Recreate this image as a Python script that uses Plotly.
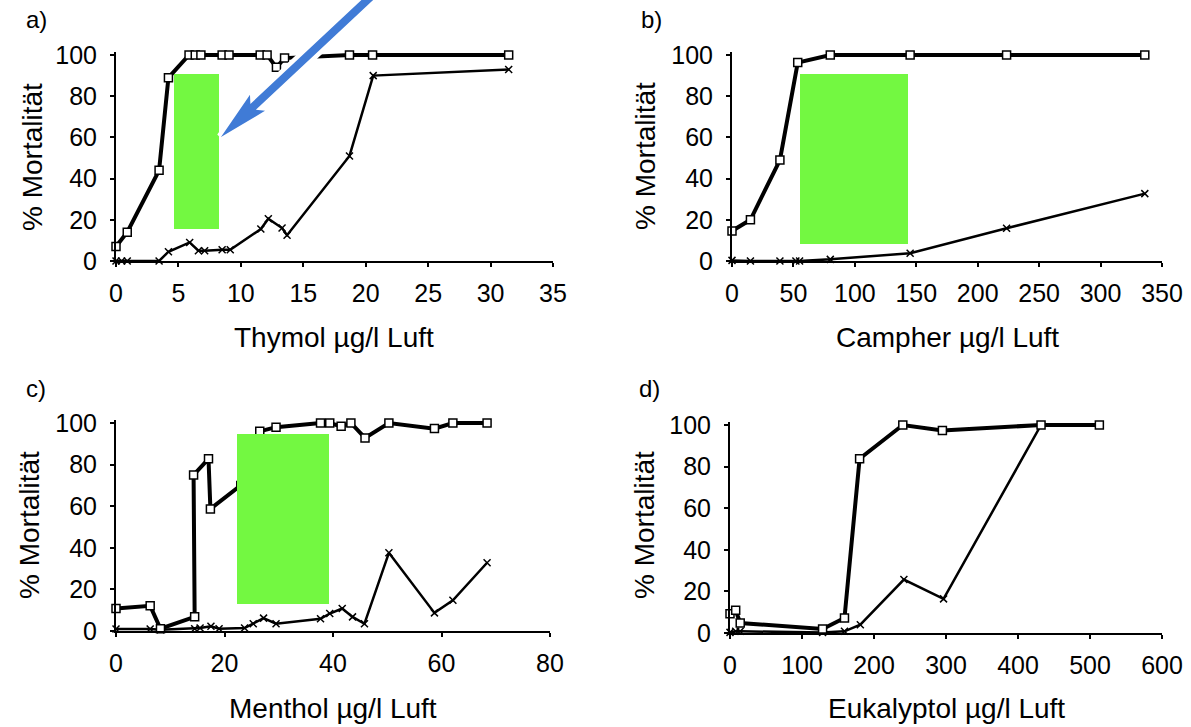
import plotly.graph_objects as go

W, H = 1191, 727
FONT = "Liberation Sans, Arial, sans-serif"

# ---------------- data ----------------
# a) Thymol
thy_sq_x = [0, 0.9, 3.45, 4.2, 5.85, 6.35, 6.8, 8.5, 9.05, 11.55, 12.1, 12.85, 13.5, 18.7, 20.55, 31.45]
thy_sq_y = [7, 14, 44, 89, 100, 100, 100, 100, 100, 100, 100, 94, 98.5, 100, 100, 100]
thy_x_x = [0, 0.45, 0.9, 3.45, 4.2, 5.9, 6.6, 7.1, 8.5, 9.15, 11.6, 12.2, 13.3, 13.7, 18.7, 20.6, 31.45]
thy_x_y = [0, 0, 0, 0, 4.5, 9, 5, 5, 5.5, 5.5, 15.5, 20.5, 16, 12.5, 51, 90, 93]

# b) Campher
cam_sq_x = [0, 15, 39, 53.5, 80, 145, 223.5, 336]
cam_sq_y = [14.6, 20, 49, 96.3, 100, 100, 100, 100]
cam_x_x = [0, 15, 39, 52, 55, 80, 145, 223.5, 336]
cam_x_y = [0.3, 0, 0, 0, 0, 0.8, 3.8, 15.9, 32.7]

# c) Menthol
men_sq_x = [0, 6.3, 8.2, 14.5, 14.3, 17.05, 17.4, 23, 26.5, 29.5, 37.7, 39.4, 41.5, 43.3, 45.9, 50.3, 58.7, 62.1, 68.4]
men_sq_y = [10.8, 12.1, 1.1, 6.8, 75, 82.8, 58.7, 70, 96, 98, 100, 100, 98.4, 100, 92.8, 100, 97.3, 100, 100]
men_x_x = [0, 6.3, 8.2, 14.5, 15.5, 17.5, 19, 23.7, 25.3, 27.2, 29.5, 37.7, 39.4, 41.7, 43.6, 45.8, 50.3, 58.7, 62.1, 68.4]
men_x_y = [1, 1, 0.6, 1.1, 1.4, 2.3, 1.1, 1.4, 3.5, 6.2, 3.5, 5.9, 8.4, 10.8, 6.8, 3.5, 37.6, 8.7, 14.8, 32.8]

# d) Eukalyptol
euk_sq_x = [0, 7.9, 14.2, 128.6, 159, 180, 240, 295, 432, 513]
euk_sq_y = [9.3, 10.9, 4.8, 1.9, 7.2, 83.8, 100, 97.4, 100, 100]
euk_x_x = [0, 7.9, 14.2, 128.6, 159, 181, 241.5, 296.6, 432, 513]
euk_x_y = [0.3, 0.8, 0.8, 0.3, 0.8, 4, 25.7, 16.4, 100, 100]

x_titles = ["Thymol µg/l Luft", "Campher µg/l Luft", "Menthol µg/l Luft", "Eukalyptol µg/l Luft"]
y_title = "% Mortalität"
panel_labels = ["a)", "b)", "c)", "d)"]
x_ranges = [[0, 35], [0, 350], [0, 80], [0, 600]]
x_dticks = [5, 50, 20, 100]
y_ticks = [0, 20, 40, 60, 80, 100]

# ---------------- layout helpers (pixel -> paper) ----------------
def px(x):
    return x / W

def py(y):
    return 1 - y / H

# plot areas in pixels: (x_left, x_right, y_zero, y_hundred)
areas = [
    (116, 553, 261, 55),
    (732, 1162, 261, 55),
    (116, 550, 631, 423),
    (730, 1162, 633, 425),
]
x_line_widths = [2, 2, 1.5, 1.5]
YTOP = 101.5

fig = go.Figure()

series = [
    (thy_sq_x, thy_sq_y, thy_x_x, thy_x_y),
    (cam_sq_x, cam_sq_y, cam_x_x, cam_x_y),
    (men_sq_x, men_sq_y, men_x_x, men_x_y),
    (euk_sq_x, euk_sq_y, euk_x_x, euk_x_y),
]

for i, (sx, sy, cx, cy) in enumerate(series):
    xa = "x" if i == 0 else f"x{i+1}"
    ya = "y" if i == 0 else f"y{i+1}"
    fig.add_trace(go.Scatter(
        x=cx, y=cy, xaxis=xa, yaxis=ya, mode="lines+markers",
        line=dict(color="black", width=2.5),
        marker=dict(symbol="x-thin", size=7, color="black", line=dict(color="black", width=1.5)),
        cliponaxis=False, showlegend=False))
    fig.add_trace(go.Scatter(
        x=sx, y=sy, xaxis=xa, yaxis=ya, mode="lines+markers",
        line=dict(color="black", width=4),
        marker=dict(symbol="square", size=8, color="white", line=dict(color="black", width=1.5)),
        cliponaxis=False, showlegend=False))

layout = dict(
    width=W, height=H, autosize=False, margin=dict(l=0, r=0, t=0, b=0, pad=0, autoexpand=False),
    paper_bgcolor="white", plot_bgcolor="white",
    font=dict(family=FONT, color="black"),
    showlegend=False,
)

for i, (xl, xr, y0, y100) in enumerate(areas):
    ppu = (y0 - y100) / 100.0
    ytop_px = y0 - YTOP * ppu
    xkey = "xaxis" if i == 0 else f"xaxis{i+1}"
    ykey = "yaxis" if i == 0 else f"yaxis{i+1}"
    xa = "x" if i == 0 else f"x{i+1}"
    ya = "y" if i == 0 else f"y{i+1}"
    layout[xkey] = dict(
        domain=[px(xl), px(xr)], range=x_ranges[i], dtick=x_dticks[i], tick0=0,
        anchor=ya, showline=True, linecolor="black", linewidth=x_line_widths[i], automargin=False,
        ticks="outside", ticklen=4, tickwidth=2, tickcolor="black",
        showgrid=False, zeroline=False, ticklabelstandoff=5,
        tickfont=dict(family=FONT, size=25, color="black"),
    )
    layout[ykey] = dict(
        domain=[py(y0), py(ytop_px)], range=[0, YTOP], tickvals=y_ticks,
        anchor=xa, showline=True, linecolor="black", linewidth=2, automargin=False,
        ticks="outside", ticklen=4, tickwidth=2, tickcolor="black",
        showgrid=False, zeroline=False, ticklabelstandoff=8,
        tickfont=dict(family=FONT, size=25, color="black"),
    )

fig.update_layout(**layout)

# ---------------- text annotations ----------------
label_pos = [(36, 20), (651, 20), (36, 388), (649, 388)]
xtitle_pos = [(334, 338), (947, 338), (333, 708), (946, 708)]
ytitle_pos = [(32, 157), (645, 156), (29, 525), (644, 525)]

for i in range(4):
    fig.add_annotation(x=px(label_pos[i][0]), y=py(label_pos[i][1]), xref="paper", yref="paper",
                       text=panel_labels[i], showarrow=False, xanchor="center", yanchor="middle",
                       font=dict(family=FONT, size=24, color="black"))
    fig.add_annotation(x=px(xtitle_pos[i][0]), y=py(xtitle_pos[i][1]), xref="paper", yref="paper",
                       text=x_titles[i], showarrow=False, xanchor="center", yanchor="middle",
                       font=dict(family=FONT, size=28, color="black"))
    fig.add_annotation(x=px(ytitle_pos[i][0]), y=py(ytitle_pos[i][1]), xref="paper", yref="paper",
                       text=y_title, showarrow=False, xanchor="center", yanchor="middle", textangle=-90,
                       font=dict(family=FONT, size=28, color="black"))

# ---------------- overlay: green boxes ----------------
GREEN = "#73F841"
boxes = [(174, 74, 219, 229), (800, 74, 908, 244), (237, 434, 329, 604)]
for (x0, y0, x1, y1) in boxes:
    fig.add_shape(type="rect", xref="paper", yref="paper",
                  x0=px(x0), x1=px(x1), y0=py(y1), y1=py(y0),
                  fillcolor=GREEN, line=dict(width=0), layer="above")

# ---------------- overlay: blue arrow ----------------
def arrow_path(tip, tail, head_len, head_hw, notch, shaft_hw):
    tx, ty = tip
    dx, dy = tail[0] - tx, tail[1] - ty
    L = (dx * dx + dy * dy) ** 0.5
    ux, uy = dx / L, dy / L
    pxv, pyv = -uy, ux
    def pt(a, b):
        return (tx + a * ux + b * pxv, ty + a * uy + b * pyv)
    pts = [pt(0, 0), pt(head_len, head_hw), pt(notch, shaft_hw), pt(L, shaft_hw),
           pt(L, -shaft_hw), pt(notch, -shaft_hw), pt(head_len, -head_hw)]
    return "M " + " L ".join(f"{px(a):.5f},{py(b):.5f}" for a, b in pts) + " Z"

arrow_tip = (221, 137)
arrow_tail = (410, -40)
path = arrow_path(arrow_tip, arrow_tail, 50, 11, 44, 4)
fig.add_shape(type="path", xref="paper", yref="paper", path=path,
              fillcolor="white", line=dict(color="white", width=9), layer="above")
fig.add_shape(type="path", xref="paper", yref="paper", path=path,
              fillcolor="#407BD6", line=dict(width=0), layer="above")

fig.write_html("out.html", config={"displayModeBar": False},
               post_script="document.body.style.margin='0';document.body.style.overflow='hidden';")
